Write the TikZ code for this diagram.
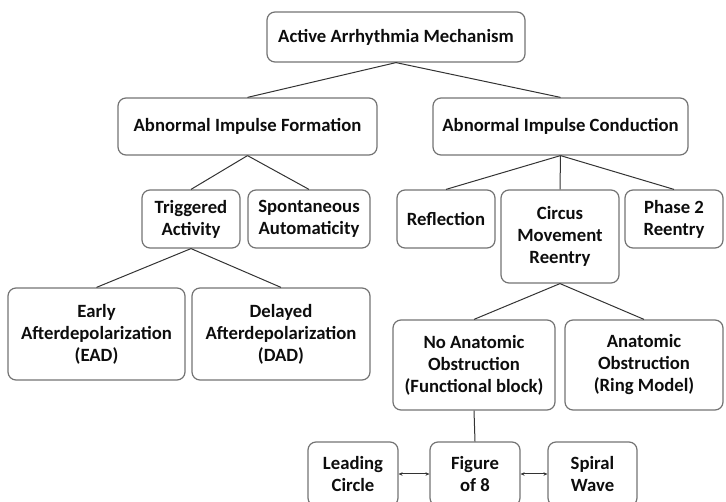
\documentclass[tikz,border=0pt]{standalone}
\usepackage{fontspec}
\setmainfont{Carlito}
\usetikzlibrary{arrows.meta}

\begin{document}
\begin{tikzpicture}[x=1pt,y=-1pt]
\tikzstyle{trait}=[draw=black!80,line width=1pt]
\tikzstyle{fleche}=[trait,{Stealth[length=4pt,width=3.5pt]}-{Stealth[length=4pt,width=3.5pt]}]
\tikzset{bloc/.style 2 args={draw=black!55,line width=1.2pt,rounded corners=8pt,
  align=center,inner sep=2pt,text=black!95,font=\fontsize{18.7}{22}\selectfont\bfseries,
  minimum width=#1,minimum height=#2}}
\useasboundingbox (0,0) rectangle (726,502);

\node[bloc={258pt}{50pt}] (racine) at (396,37) {Active Arrhythmia Mechanism};
\node[bloc={259pt}{57pt}] (formation) at (247.5,126.5) {Abnormal Impulse Formation};
\node[bloc={255pt}{57pt}] (conduction) at (560.5,126.5) {Abnormal Impulse Conduction};

\node[bloc={98pt}{58pt}] (triggered) at (191,219) {Triggered\\Activity};
\node[bloc={122pt}{58pt}] (spontaneous) at (309,219) {Spontaneous\\Automaticity};
\node[bloc={98pt}{58pt}] (reflection) at (446,219) {Reflection};
\node[bloc={118pt}{93pt}] (circus) at (560,236.5) {Circus\\Movement\\Reentry};
\node[bloc={98pt}{58pt}] (phase) at (674,219) {Phase 2\\Reentry};

\node[bloc={177pt}{92pt}] (ead) at (96.5,334) {Early\\Afterdepolarization\\(EAD)};
\node[bloc={178pt}{92pt}] (dad) at (281,334) {Delayed\\Afterdepolarization\\(DAD)};
\node[bloc={162pt}{90pt}] (fonctionnel) at (474,365) {No Anatomic\\Obstruction\\(Functional block)};
\node[bloc={158pt}{90pt}] (anneau) at (644,365) {Anatomic\\Obstruction\\(Ring Model)};

\node[bloc={90pt}{64pt}] (leading) at (353,474) {Leading\\Circle};
\node[bloc={90pt}{64pt}] (figure) at (475,474) {Figure\\of 8};
\node[bloc={89pt}{64pt}] (spiral) at (592.5,474) {Spiral\\Wave};

\draw[trait] (racine.south) -- (formation.north);
\draw[trait] (racine.south) -- (conduction.north);
\draw[trait] (formation.south) -- (triggered.north);
\draw[trait] (formation.south) -- (spontaneous.north);
\draw[trait] (conduction.south) -- (reflection.north);
\draw[trait] (conduction.south) -- (circus.north);
\draw[trait] (conduction.south) -- (phase.north);
\draw[trait] (triggered.south) -- (ead.north);
\draw[trait] (triggered.south) -- (dad.north);
\draw[trait] (circus.south) -- (fonctionnel.north);
\draw[trait] (circus.south) -- (anneau.north);
\draw[trait] (fonctionnel.south) -- (figure.north);

\draw[fleche] (leading) -- (figure);
\draw[fleche] (figure) -- (spiral);

\end{tikzpicture}
\end{document}
